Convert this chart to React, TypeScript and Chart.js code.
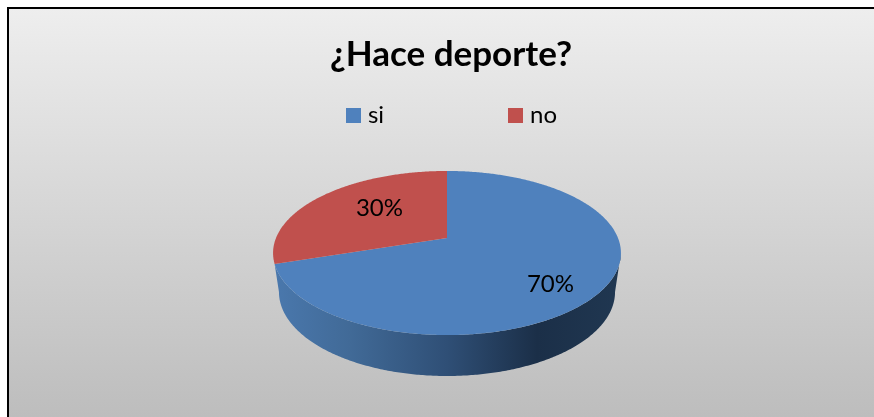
import React, { useEffect, useRef } from "react";
import { Chart, registerables, PieController, ArcElement } from "chart.js";

Chart.register(...registerables);

const categories = ["si", "no"];
const shares = [70, 30];
const sliceColors = ["#4f81bd", "#c0504d"];
const chartTitle = "¿Hace deporte?";
const FONT = "Lato, 'Open Sans', sans-serif";

// Projection of the pie's unit circle onto the tilted 3D disc
const K = -0.183;
const top = { cx: 447, cy: 238, a: 171, b: 79.3 };
const low = { cx: 447, cy: 276.6, a: 165.2, b: 81.2 };
const SIDE_START = (10.5 * Math.PI) / 180;
const SIDE_END = (169.5 * Math.PI) / 180;

type Plane = typeof top;
const project = (p: Plane, t: number): [number, number] => {
  const u = Math.cos(t);
  const v = Math.sin(t);
  const d = 1 + K * v;
  return [p.cx + (p.a * u) / d, p.cy + (p.b * v) / d];
};
const trace = (ctx: CanvasRenderingContext2D, p: Plane, from: number, to: number, move: boolean) => {
  const n = Math.max(2, Math.ceil(Math.abs(to - from) / 0.01));
  for (let i = 0; i <= n; i++) {
    const [x, y] = project(p, from + ((to - from) * i) / n);
    if (i === 0 && move) ctx.moveTo(x, y);
    else ctx.lineTo(x, y);
  }
};

class Arc3D extends ArcElement {
  static id = "arc3d";
  draw(ctx: CanvasRenderingContext2D) {
    const { startAngle, endAngle } = this as any;
    const fill = (this as any).options.backgroundColor;
    const mid = (startAngle + endAngle) / 2;
    ctx.save();
    if (Math.sin(mid) > 0) {
      const g = ctx.createLinearGradient(274, 0, 620, 0);
      g.addColorStop(0, "#4a78ad");
      g.addColorStop(0.22, "#416a97");
      g.addColorStop(0.5, "#2f4f76");
      g.addColorStop(0.76, "#1b2f48");
      g.addColorStop(1, "#203751");
      ctx.beginPath();
      trace(ctx, top, SIDE_START, Math.min(endAngle, SIDE_END), true);
      trace(ctx, low, SIDE_END, SIDE_START, false);
      ctx.closePath();
      ctx.fillStyle = g;
      ctx.fill();
    }
    ctx.beginPath();
    ctx.moveTo(top.cx, top.cy);
    trace(ctx, top, startAngle, endAngle, false);
    ctx.closePath();
    ctx.fillStyle = fill;
    ctx.fill();
    ctx.restore();
  }
}

class Pie3DController extends PieController {
  static id = "pie3d";
  static defaults = { ...PieController.defaults, dataElementType: "arc3d" };
}
Chart.register(Arc3D, Pie3DController);

const sheet = {
  id: "sheet",
  beforeDraw(chart: any) {
    const { ctx, width, height } = chart;
    const g = ctx.createLinearGradient(0, 8, 0, height);
    g.addColorStop(0, "#eeeeee");
    g.addColorStop(1, "#bdbdbd");
    ctx.save();
    ctx.fillStyle = "#ffffff";
    ctx.fillRect(0, 0, width, height);
    ctx.fillStyle = g;
    ctx.fillRect(8, 8, width - 8, height - 8);
    ctx.fillStyle = "#000000";
    ctx.fillRect(7, 7, width - 7, 2);
    ctx.fillRect(7, 7, 2, height - 7);
    ctx.restore();
  },
};

const placeBlocks = {
  id: "placeBlocks",
  afterLayout(chart: any) {
    const l = chart.legend;
    l.top = 103 - l.options.labels.padding;
    l.left += 17;
    l.right += 17;
    const t = chart.titleBlock;
    t.left = 28;
    t.right = 874;
  },
};

const labelReach = [0.76, 0.59];
const labelTurn = (8 * Math.PI) / 180;

const sliceLabels = {
  id: "sliceLabels",
  afterDatasetsDraw(chart: any) {
    const { ctx } = chart;
    const data = chart.data.datasets[0].data as number[];
    const total = data.reduce((a, b) => a + b, 0);
    chart.getDatasetMeta(0).data.forEach((el: any, i: number) => {
      const t = (el.startAngle + el.endAngle) / 2 + labelTurn;
      const r = labelReach[i];
      const d = 1 + K * Math.sin(t) * r;
      const x = top.cx + (top.a * r * Math.cos(t)) / d;
      const y = top.cy + (top.b * r * Math.sin(t)) / d;
      ctx.save();
      ctx.font = `24px ${FONT}`;
      ctx.fillStyle = "#000";
      ctx.textAlign = "center";
      ctx.textBaseline = "middle";
      ctx.fillText(`${Math.round((data[i] / total) * 100)}%`, x, y);
      ctx.restore();
    });
  },
};

// Legend swatch as an image, so it can sit closer to its text than the default gap
const swatch = (color: string) => {
  const c = document.createElement("canvas");
  c.width = 15;
  c.height = 15;
  const x = c.getContext("2d")!;
  x.fillStyle = color;
  x.fillRect(0, 0, 15, 15);
  return c;
};

export default function App() {
  const ref = useRef<HTMLCanvasElement>(null);
  useEffect(() => {
    const baseLabels = (PieController as any).overrides.plugins.legend.labels.generateLabels;
    const chart = new Chart(ref.current!, {
      type: "pie3d" as any,
      data: {
        labels: categories,
        datasets: [{ data: shares, backgroundColor: sliceColors, borderWidth: 0, clip: false } as any],
      },
      options: {
        animation: false,
        responsive: false,
        plugins: {
          title: {
            display: true,
            text: chartTitle,
            color: "#000",
            font: { family: FONT, size: 35, weight: "bold" },
            padding: { top: 34, bottom: 10 },
          },
          legend: {
            display: true,
            position: "top",
            labels: {
              color: "#000",
              boxWidth: 5,
              boxHeight: 15,
              padding: 129,
              usePointStyle: true,
              font: { family: FONT, size: 24 },
              generateLabels: (c: any) =>
                baseLabels(c).map((item: any, i: number) => ({ ...item, pointStyle: swatch(sliceColors[i]) })),
            },
          },
          tooltip: { enabled: false },
        },
      } as any,
      plugins: [sheet, placeBlocks, sliceLabels],
    });
    return () => chart.destroy();
  }, []);
  return (
    <canvas
      ref={ref}
      width={874}
      height={417}
      style={{ position: "fixed", left: 0, top: 0, display: "block" }}
    />
  );
}
